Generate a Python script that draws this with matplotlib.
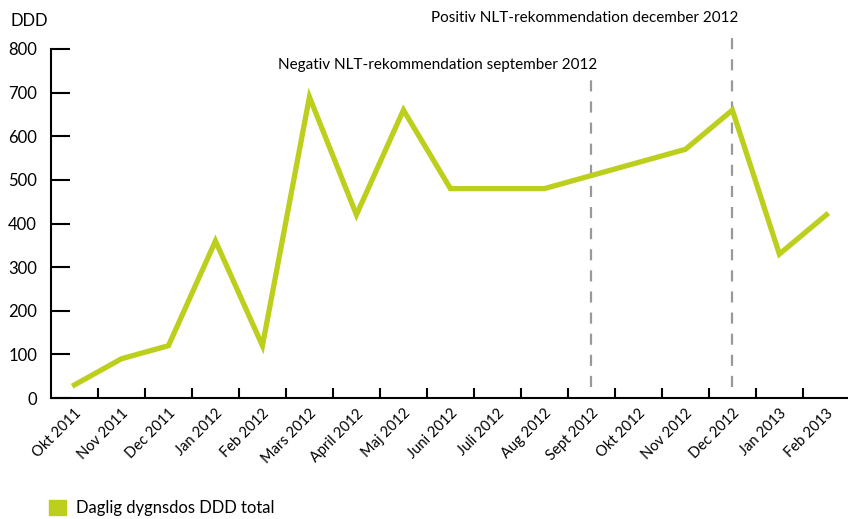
import matplotlib
matplotlib.use("Agg")
import matplotlib.pyplot as plt
from matplotlib.patches import Patch
import numpy as np

plt.rcParams['font.family'] = ['Lato', 'DejaVu Sans']

months = ['Okt 2011', 'Nov 2011', 'Dec 2011', 'Jan 2012', 'Feb 2012', 'Mars 2012',
          'April 2012', 'Maj 2012', 'Juni 2012', 'Juli 2012', 'Aug 2012', 'Sept 2012',
          'Okt 2012', 'Nov 2012', 'Dec 2012', 'Jan 2013', 'Feb 2013']
ddd = [30, 90, 120, 360, 120, 690, 420, 660, 480, 480, 480, 510, 540, 570, 660, 330, 420]

markers = ['Sept 2012', 'Dec 2012']
marker_texts = ['Negativ NLT-rekommendation september 2012',
                'Positiv NLT-rekommendation december 2012']
marker_tops = [735, 843]

green = '#bccf1c'

fig = plt.figure(figsize=(8.48, 5.19), dpi=100)
ax = fig.add_axes([0.0601, 0.2331, 0.9399, 0.6725])

x = np.arange(len(months))
ax.plot(x, ddd, color=green, lw=3.8, solid_joinstyle='miter', zorder=3)

for m, txt, top in zip(markers, marker_texts, marker_tops):
    i = months.index(m)
    ax.plot([i, i], [25, top], color='#999999', lw=1.6, dashes=(5, 4.5), clip_on=False, zorder=2)
    ax.text(i + 0.13, top + 12, txt, ha='right', va='bottom', fontsize=11, clip_on=False)

ax.set_xlim(-0.5, 16.46)
ax.set_ylim(0, 800)
ax.set_yticks(range(0, 801, 100))
ax.tick_params(axis='y', direction='in', length=14, width=1.5, labelsize=12, pad=10)
ax.set_xticks(x[:-1] + 0.5)
ax.set_xticklabels([])
ax.set_xticks(x, minor=True)
ax.set_xticklabels(months, minor=True, rotation=45, ha='right', rotation_mode='anchor', fontsize=10.5)
ax.tick_params(axis='x', which='major', direction='in', length=7, width=1.5)
ax.tick_params(axis='x', which='minor', length=0, pad=6)
for s in ['top', 'right']:
    ax.spines[s].set_visible(False)
for s in ['left', 'bottom']:
    ax.spines[s].set_linewidth(1.5)

fig.text(0.012, 0.96, 'DDD', fontsize=12, va='center', ha='left')

fig.legend(handles=[Patch(color=green)], labels=['Daglig dygnsdos DDD total'],
           loc='center left', bbox_to_anchor=(0.058, 0.021), frameon=False,
           handlelength=1.0, handleheight=1.0, handletextpad=0.6, borderpad=0,
           borderaxespad=0, fontsize=12)

fig.savefig('out.png', dpi=100)
